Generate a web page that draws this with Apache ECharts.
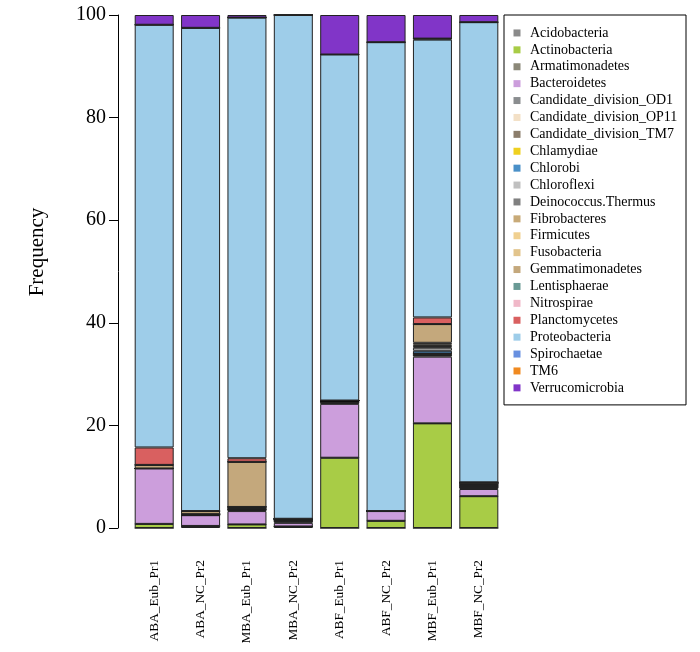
<!DOCTYPE html>
<html><head><meta charset="utf-8">
<script src="https://cdn.jsdelivr.net/npm/echarts@6/dist/echarts.min.js"></script>
<style>html,body{margin:0;padding:0;background:#fff}#c{width:700px;height:652px}</style>
</head><body><div id="c"></div>
<script>
// Samples (x categories)
const samples = ['ABA_Eub_Pr1','ABA_NC_Pr2','MBA_Eub_Pr1','MBA_NC_Pr2','ABF_Eub_Pr1','ABF_NC_Pr2','MBF_Eub_Pr1','MBF_NC_Pr2'];
// Taxa (stack order, bottom to top)
const taxa = ['Acidobacteria','Actinobacteria','Armatimonadetes','Bacteroidetes','Candidate_division_OD1','Candidate_division_OP11','Candidate_division_TM7','Chlamydiae','Chlorobi','Chloroflexi','Deinococcus.Thermus','Fibrobacteres','Firmicutes','Fusobacteria','Gemmatimonadetes','Lentisphaerae','Nitrospirae','Planctomycetes','Proteobacteria','Spirochaetae','TM6','Verrucomicrobia'];
// Frequencies (%) per sample
const Acidobacteria          = [0,    0.4, 0,    0.3, 0,     0,    0,     0];
const Actinobacteria         = [0.8,  0,   0.7,  0,   13.7,  1.4,  20.4,  6.2];
const Armatimonadetes        = [0,    0,   0,    0,   0,     0,    0,     0];
const Bacteroidetes          = [10.8, 2.1, 2.6,  0.7, 10.5,  1.9,  13.0,  1.4];
const Candidate_division_OD1 = [0,    0,   0.2,  0.3, 0.2,   0,    0.3,   0.3];
const Candidate_division_OP11= [0,    0,   0,    0,   0,     0,    0,     0];
const Candidate_division_TM7 = [0,    0.2, 0.2,  0.3, 0.25,  0,    0.3,   0.3];
const Chlamydiae             = [0,    0,   0,    0,   0,     0,    0,     0];
const Chlorobi               = [0,    0,   0,    0,   0.2,   0,    0.55,  0];
const Chloroflexi            = [0,    0,   0.2,  0,   0,     0,    0.6,   0.2];
const Deinococcus_Thermus    = [0,    0,   0.2,  0.2, 0,     0,    0.2,   0.2];
const Fibrobacteres          = [0,    0,   0,    0,   0,     0,    0.15,  0];
const Firmicutes             = [0,    0,   0,    0,   0,     0,    0.3,   0];
const Fusobacteria           = [0,    0,   0,    0,   0,     0,    0.3,   0];
const Gemmatimonadetes       = [0.7,  0.6, 8.8,  0,   0,     0,    3.65,  0.3];
const Lentisphaerae          = [0,    0,   0,    0,   0,     0,    0,     0];
const Nitrospirae            = [0,    0,   0,    0,   0,     0,    0,     0];
const Planctomycetes         = [3.4,  0,   0.7,  0,   0,     0,    1.3,   0];
const Proteobacteria         = [82.4, 94.2,85.9, 98.2,67.45, 91.4, 54.15, 89.7];
const Spirochaetae           = [0,    0,   0,    0,   0,     0,    0.2,   0];
const TM6                    = [0,    0,   0,    0,   0,     0,    0,     0];
const Verrucomicrobia        = [1.9,  2.5, 0.5,  0,   7.7,   5.3,  4.6,   1.4];
const taxaValues = [Acidobacteria, Actinobacteria, Armatimonadetes, Bacteroidetes, Candidate_division_OD1, Candidate_division_OP11, Candidate_division_TM7, Chlamydiae, Chlorobi, Chloroflexi, Deinococcus_Thermus, Fibrobacteres, Firmicutes, Fusobacteria, Gemmatimonadetes, Lentisphaerae, Nitrospirae, Planctomycetes, Proteobacteria, Spirochaetae, TM6, Verrucomicrobia];
const yTicks = [0, 20, 40, 60, 80, 100];

const colors = ['#8a8a8a','#a8cc46','#8b8878','#cc9edc','#8a8d8f','#f3e0c6','#8b7d6b','#efd020','#4a90c8','#c0c0c0','#808080','#c8aa78','#f0d090','#e2c48c','#c4a87c','#6a9a95','#f0b8c8','#d96060','#9ecde9','#6890e0','#f08a20','#8135c8'];

const FONT = '"Liberation Serif", "DejaVu Serif", serif';
const chart = echarts.init(document.getElementById('c'), null, {renderer: 'canvas'});
chart.setOption({
  animation: false,
  backgroundColor: '#fff',
  grid: {left: 131, top: 15, width: 371, height: 513, containLabel: false},
  legend: {
    data: taxa, orient: 'vertical', left: 504, top: 15,
    icon: 'rect', itemWidth: 7, itemHeight: 7, itemGap: 0,
    selectedMode: false,
    padding: [9.5, 8, 8.6, 9.5],
    borderColor: '#000', borderWidth: 1,
    itemStyle: {borderWidth: 0},
    textStyle: {fontFamily: FONT, fontSize: 14, color: '#000', lineHeight: 16.9, width: 148, padding: [0, 0, 0, 4.5]}
  },
  xAxis: {
    type: 'category', data: samples,
    axisLine: {show: false}, axisTick: {show: false},
    axisLabel: {rotate: 90, fontFamily: FONT, fontSize: 13.3, color: '#000', margin: 32, interval: 0}
  },
  yAxis: {
    type: 'value', min: yTicks[0], max: yTicks[yTicks.length - 1], interval: 20, offset: 13,
    axisLine: {show: true, lineStyle: {color: '#000', width: 1}},
    axisTick: {show: true, length: 9, lineStyle: {color: '#000', width: 1}},
    axisLabel: {fontFamily: FONT, fontSize: 20, color: '#000', margin: 12},
    splitLine: {show: false},
    name: 'Frequency', nameLocation: 'middle', nameRotate: 90, nameGap: 70,
    nameTextStyle: {fontFamily: FONT, fontSize: 21, color: '#000', padding: [0, 0, 0, 39]}
  },
  series: taxa.map((t, i) => ({
    name: t, type: 'bar', stack: 'total', barWidth: 39,
    data: taxaValues[i],
    itemStyle: {color: colors[i], borderColor: '#222', borderWidth: 1}
  }))
});
</script>
</body></html>
